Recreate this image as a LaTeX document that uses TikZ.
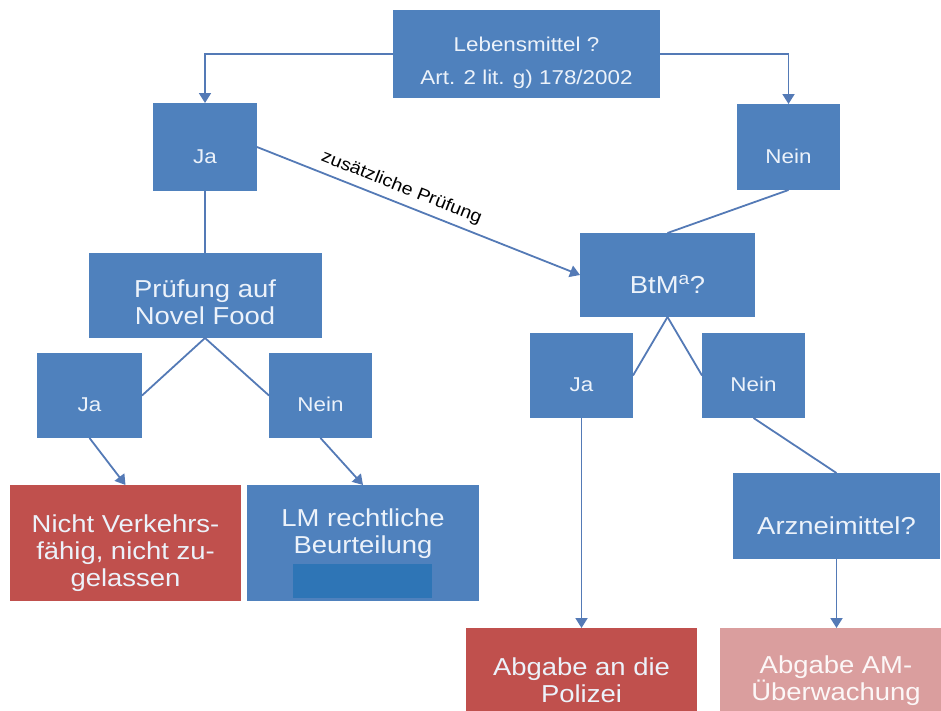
\documentclass[tikz,border=0pt]{standalone}
\usepackage{fontspec}
\setmainfont[FakeStretch=1.12]{Liberation Sans}
\usetikzlibrary{arrows.meta,positioning}
\definecolor{boxblue}{RGB}{79,129,189}
\definecolor{boxred}{RGB}{192,80,77}
\definecolor{boxpink}{RGB}{218,158,158}
\definecolor{barblue}{RGB}{46,117,182}
\definecolor{linecol}{RGB}{84,122,182}
\definecolor{lighttext}{RGB}{236,242,250}
\newcommand{\tdrop}{\rule{0pt}{\dimexpr .905em+15pt\relax}}
\begin{document}
\begin{tikzpicture}[x=1pt,y=-1pt,
  box/.style={fill=boxblue,text=lighttext,align=center,inner sep=0pt,outer sep=0pt},
  small/.style={box,font=\fontsize{20}{33}\selectfont},
  big/.style={box,font=\fontsize{24.5}{27}\selectfont},
  ln/.style={draw=linecol,line width=1.8pt},
  ar/.style={ln,-{Triangle[length=10pt,width=12pt]}}]
\useasboundingbox (0,0) rectangle (941,710);
\clip (0,0) rectangle (941,710);
\node[small,minimum width=267pt,minimum height=88pt] (leb) at (526.5,54) {\tdrop Lebensmittel ?\\Art. 2 lit. g) 178/2002};
\node[small,minimum width=104pt,minimum height=88pt] (ja1) at (205,147) {\tdrop Ja};
\node[small,minimum width=103pt,minimum height=86pt] (nein1) at (788.5,147) {\tdrop Nein};
\node[big,minimum width=233pt,minimum height=85pt] (pruef) at (205,295.5) {\rule{0pt}{\dimexpr .905em+10pt\relax}Prüfung auf\\Novel Food};
\node[big,minimum width=175pt,minimum height=84pt] (btm) at (667.5,275) {\tdrop BtM\textsuperscript{a}?};
\node[small,minimum width=105pt,minimum height=85pt] (ja2) at (89.5,395.5) {\tdrop Ja};
\node[small,minimum width=103pt,minimum height=85pt] (nein2) at (320.5,395.5) {\tdrop Nein};
\node[small,minimum width=103pt,minimum height=85pt] (ja3) at (581.5,375.5) {\tdrop Ja};
\node[small,minimum width=103pt,minimum height=85pt] (nein3) at (753.5,375.5) {\tdrop Nein};
\node[big,fill=boxred,minimum width=231pt,minimum height=116pt] (nicht) at (125.5,543) {\tdrop Nicht Verkehrs-\\fähig, nicht zu-\\gelassen};
\node[big,minimum width=232pt,minimum height=116pt] (lm) at (363,543) {};
\node[big,fill=none] (lmtext) at (363,524) {\tdrop LM rechtliche\\Beurteilung};
\node[fill=barblue,inner sep=0pt,minimum width=139pt,minimum height=34pt] (lmbar) at (362.5,581) {};
\node[big,minimum width=207pt,minimum height=86pt] (arz) at (836.5,516) {\tdrop Arzneimittel?};
\node[big,fill=boxred,minimum width=231pt,minimum height=86pt] (pol) at (581.5,671) {\tdrop Abgabe an die\\Polizei};
\node[big,fill=boxpink,text=white!92!boxpink,minimum width=232pt,minimum height=86pt] (amu) at (836,671) {\tdrop Abgabe AM-\\Überwachung};
\draw[ar] (leb.west) -| (ja1.north);
\draw[ar] (leb.east) -| (nein1.north);
\draw[ln] (ja1.south) -- (pruef.north);
\draw[ar] (ja1.east) -- node[pos=0.43,above=3pt,sloped,font=\fontsize{17.5}{20}\selectfont] {zusätzliche Prüfung} (btm.west);
\draw[ln] (nein1.south) -- (btm.north);
\draw[ln] (pruef.south) -- (ja2.east);
\draw[ln] (pruef.south) -- (nein2.west);
\draw[ln] (btm.south) -- (ja3.east);
\draw[ln] (btm.south) -- (nein3.west);
\draw[ar] (ja2.south) -- (nicht.north);
\draw[ar] (nein2.south) -- (lm.north);
\draw[ar] (ja3.south) -- (pol.north);
\draw[ln] (nein3.south) -- (arz.north);
\draw[ar] (arz.south) -- (arz.south |- amu.north);
\end{tikzpicture}
\end{document}
